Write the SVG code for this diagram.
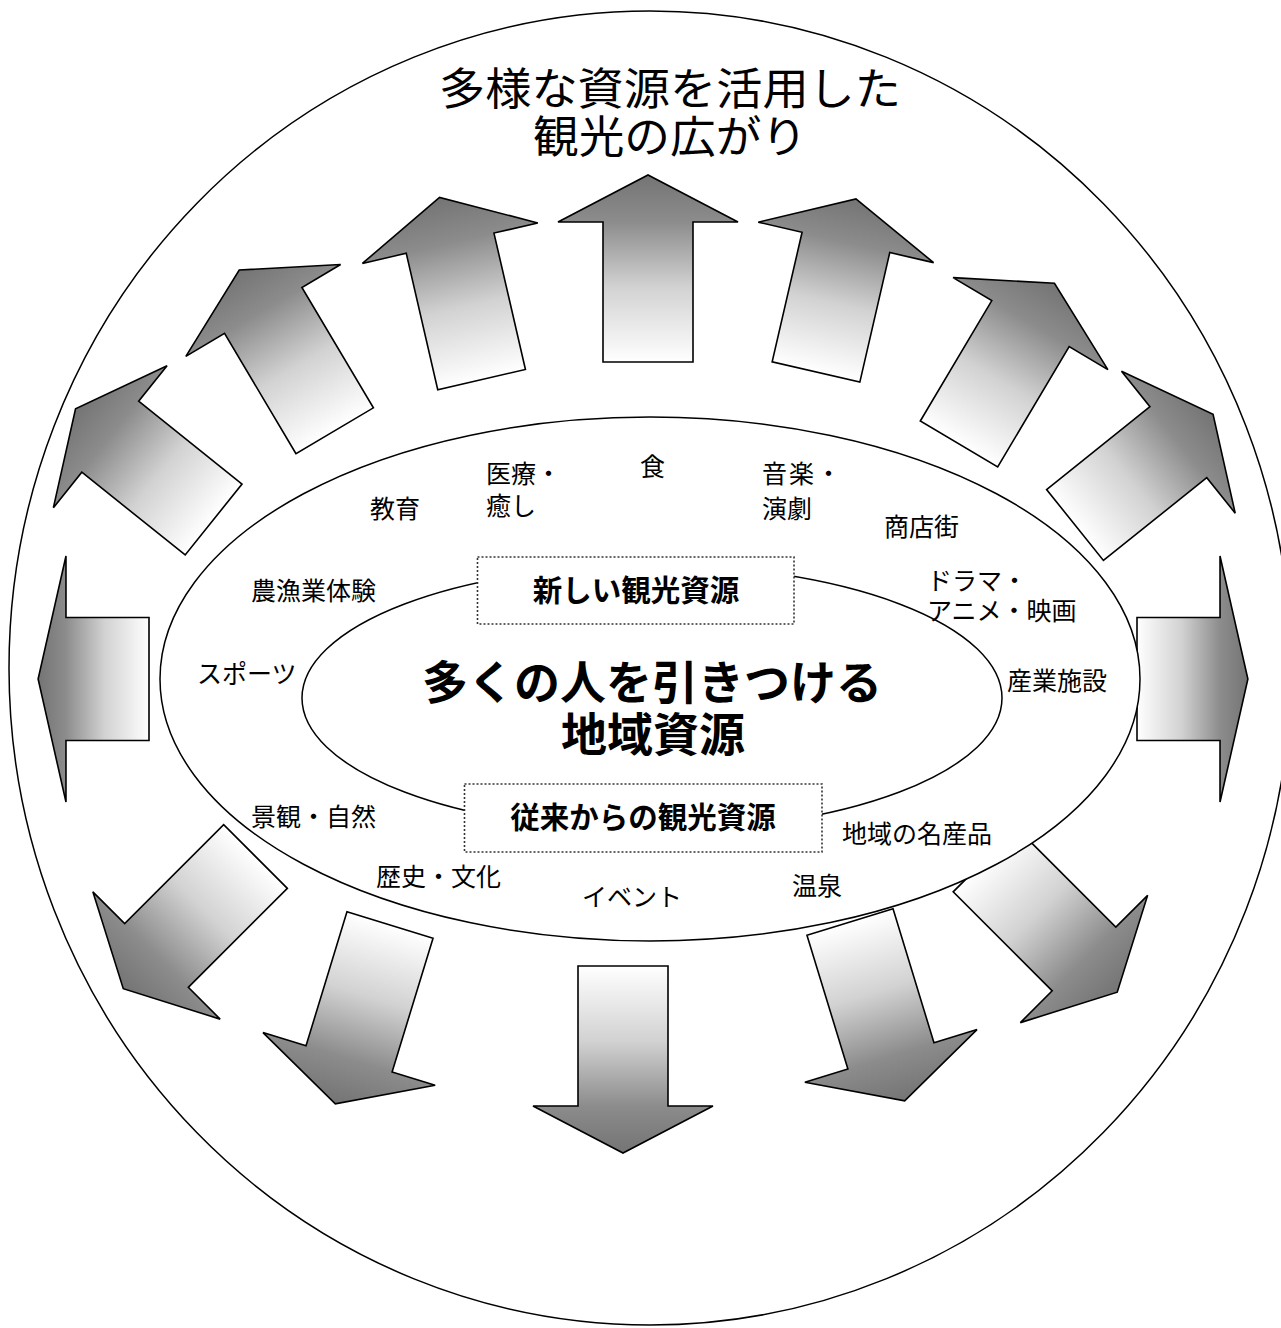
<svg xmlns="http://www.w3.org/2000/svg" width="1281" height="1328" viewBox="0 0 1281 1328">
<style>
.ln{fill:#fff;stroke:#000;stroke-width:1.5}
.lbl{font-family:"Noto Sans CJK JP","Noto Sans",sans-serif;font-size:25px;fill:#000}
.box{fill:#fff;stroke:#333;stroke-width:1.6;stroke-dasharray:2 2}
.bt{font-family:"Noto Sans CJK JP","Noto Sans",sans-serif;font-weight:700;font-size:29.5px;fill:#000;text-anchor:middle}
.ct{font-family:"Noto Sans CJK JP","Noto Sans",sans-serif;font-weight:700;font-size:46px;fill:#000;text-anchor:middle}
.tt{font-family:"Noto Sans CJK JP","Noto Sans",sans-serif;font-size:44px;fill:#000;text-anchor:middle}
</style>
<defs>
<linearGradient id="ag" x1="0" y1="0" x2="0" y2="1">
<stop offset="0" stop-color="#747474"/>
<stop offset="0.25" stop-color="#8c8c8c"/>
<stop offset="0.6" stop-color="#d2d2d2"/>
<stop offset="1" stop-color="#ffffff"/>
</linearGradient>
<path id="arr" d="M-45,0 L-45,-140 L-90,-140 L0,-187 L90,-140 L45,-140 L45,0 Z" fill="url(#ag)" stroke="#000" stroke-width="1.6" stroke-linejoin="miter" vector-effect="non-scaling-stroke"/>
</defs>
<rect width="1281" height="1328" fill="#fff"/>
<g id="outer-circle"><ellipse class="ln" cx="650" cy="668" rx="641" ry="657"/></g>
<g id="title">
<text class="tt"><tspan x="670" y="105" textLength="462" lengthAdjust="spacingAndGlyphs">多様な資源を活用した</tspan><tspan x="670" y="153" textLength="274" lengthAdjust="spacingAndGlyphs">観光の広がり</tspan></text>
</g>
<g id="arrows">
<use id="arrow-a" href="#arr" transform="translate(213.6,519.5) rotate(-51.3) scale(1.01,0.946)"/>
<use id="arrow-b" href="#arr" transform="translate(334.7,430.8) rotate(-30.7)"/>
<use id="arrow-c" href="#arr" transform="translate(481.6,379.6) rotate(-13)"/>
<use id="arrow-d" href="#arr" transform="translate(648,362)"/>
<use id="arrow-e" href="#arr" transform="translate(816,372) rotate(13) scale(1,0.95)"/>
<use id="arrow-f" href="#arr" transform="translate(959,444) rotate(30.7)"/>
<use id="arrow-g" href="#arr" transform="translate(1075,525) rotate(51.3) scale(1.01,0.946)"/>
<use id="arrow-left" href="#arr" transform="translate(149,679) rotate(-90) scale(1.367,0.593)"/>
<use id="arrow-right" href="#arr" transform="translate(1137,679) rotate(90) scale(1.367,0.593)"/>
<use id="arrow-h" href="#arr" transform="translate(255.5,856.5) rotate(-135)"/>
<use id="arrow-i" href="#arr" transform="translate(390,925) rotate(-163)"/>
<use id="arrow-j" href="#arr" transform="translate(623,966) rotate(180)"/>
<use id="arrow-k" href="#arr" transform="translate(850,922) rotate(163)"/>
<use id="arrow-l" href="#arr" transform="translate(985,860) rotate(135)"/>
</g>
<g id="middle-ring"><ellipse class="ln" cx="650" cy="679" rx="490" ry="262"/></g>
<g id="core"><ellipse fill="none" stroke="#000" stroke-width="1.5" cx="652" cy="698" rx="350" ry="133"/>
<text class="ct"><tspan x="652" y="699">多くの人を引きつける</tspan><tspan x="653" y="751">地域資源</tspan></text>
</g>
<g id="box-new"><rect class="box" x="477.5" y="557" width="316.5" height="67"/><text class="bt" x="636" y="601">新しい観光資源</text></g>
<g id="box-old"><rect class="box" x="464.5" y="784" width="357.5" height="68"/><text class="bt" x="643" y="828">従来からの観光資源</text></g>
<g id="labels">
<text class="lbl"><tspan x="486" y="483">医療・</tspan><tspan x="486" y="515">癒し</tspan></text>
<text class="lbl" x="370" y="518">教育</text>
<text class="lbl" x="640" y="476">食</text>
<text class="lbl" x="251" y="600">農漁業体験</text>
<text class="lbl"><tspan x="762" y="483" letter-spacing="2">音楽・</tspan><tspan x="762" y="518">演劇</tspan></text>
<text class="lbl" x="884" y="536">商店街</text>
<text class="lbl"><tspan x="927" y="590">ドラマ・</tspan><tspan x="927" y="620">アニメ・映画</tspan></text>
<text class="lbl" x="197" y="683">スポーツ</text>
<text class="lbl" x="1007" y="690">産業施設</text>
<text class="lbl" x="251" y="826">景観・自然</text>
<text class="lbl" x="376" y="886">歴史・文化</text>
<text class="lbl" x="582" y="906">イベント</text>
<text class="lbl" x="842" y="843">地域の名産品</text>
<text class="lbl" x="792" y="895">温泉</text>
</g>
</svg>
